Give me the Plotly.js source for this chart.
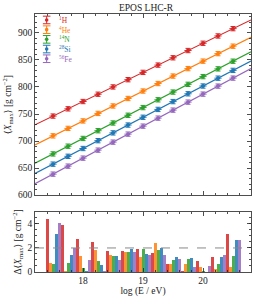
<!DOCTYPE html>
<html><head><meta charset="utf-8">
<script src="https://cdn.plot.ly/plotly-3.0.1.min.js"></script>
<style>html,body{margin:0;padding:0;background:#fff}</style>
</head><body><div id="c" style="width:254px;height:301px"></div>
<script>
const energies = [17.5,17.75,18.0,18.25,18.5,18.75,19.0,19.25,19.5,19.75,20.0,20.25,20.5];
const species = ['<sup>1</sup>H','<sup>4</sup>He','<sup>14</sup>N','<sup>28</sup>Si','<sup>56</sup>Fe'];
const colors = ['#d62728','#ff7f0e','#2ca02c','#1f77b4','#9467bd'];
const xmaxH  = [746.2,759.6,773.1,786.6,800.1,813.5,827.0,840.5,854.0,867.4,880.9,894.4,907.9];
const xmaxHe = [709.6,723.4,737.2,751.1,764.9,778.7,792.5,806.4,820.2,834.0,847.8,861.7,875.5];
const xmaxN  = [676.2,690.5,704.8,719.1,733.4,747.7,761.9,776.3,790.6,804.9,819.2,833.5,847.7];
const xmaxSi = [657.3,671.8,686.2,700.7,715.1,729.6,744.0,758.5,773.0,787.4,801.8,816.3,830.7];
const xmaxFe = [638.8,653.6,668.4,683.2,698.0,712.8,727.6,742.4,757.2,772.0,786.8,801.6,816.4];
const fitX   = [17.2, 20.8];
const fitH   = [730, 924];
const fitHe  = [693, 892];
const fitN   = [659, 865];
const fitSi  = [640, 848];
const fitFe  = [621, 834];
const dH  = [4.4,3.9,2.75,2.5,1.72,1.78,1.9,1.6,0.67,0.12,0.88,1.25,3.15];
const dHe = [0.75,0.05,1.35,1.85,1.45,1.7,1.23,2.45,0.67,0.67,0.4,0.27,0.42];
const dN  = [0.7,0.75,0.35,0.9,1.3,1.7,1.95,1.8,1.0,1.08,0.08,0.7,1.33];
const dSi = [3.2,1.45,0.1,0.6,1.3,1.95,1.53,2.03,1.28,1.17,0.02,1.23,2.67];
const dFe = [4.1,2.0,1.0,0.1,0.97,1.7,1.42,1.45,1.05,0.4,0.5,1.42,2.67];
const refLine = 2;

const pts = [xmaxH,xmaxHe,xmaxN,xmaxSi,xmaxFe];
const fits = [fitH,fitHe,fitN,fitSi,fitFe];
const devs = [dH,dHe,dN,dSi,dFe];
const traces = [];
for (let i=0;i<5;i++){
  traces.push({x:fitX,y:fits[i],mode:'lines',line:{color:colors[i],width:1.2},
    showlegend:false,hoverinfo:'skip',xaxis:'x',yaxis:'y'});
}
for (let i=0;i<5;i++){
  traces.push({x:energies,y:pts[i],mode:'markers',showlegend:false,
    marker:{color:colors[i],size:4},
    error_y:{type:'constant',value:4,color:colors[i],thickness:1,width:2.5},
    error_x:{type:'constant',value:0.06,color:colors[i],thickness:1,width:0},
    xaxis:'x',yaxis:'y'});
}
for (let i=0;i<5;i++){
  traces.push({type:'bar',x:energies,y:devs[i],marker:{color:colors[i],opacity:0.85},
    showlegend:false,xaxis:'x2',yaxis:'y2'});
}
// legend drawn manually (compact spacing as in reference)
const shapes = [{type:'line',xref:'x2 domain',yref:'y2',x0:0,x1:1,y0:refLine,y1:refLine,
    line:{color:'#888',width:1,dash:'dash'}}];
const annotations = [];
const legX = 0.054, legTextX = 0.10, legTop = 0.967, legStep = 0.0535;
const W = 216, H = 181;
for (let i=0;i<5;i++){
  const yc = legTop - i*legStep;
  const hy = 3.8/H, hx = 3.8/W;
  shapes.push({type:'line',xref:'x domain',yref:'y domain',x0:legX,x1:legX,y0:yc-hy,y1:yc+hy,line:{color:colors[i],width:1}});
  shapes.push({type:'line',xref:'x domain',yref:'y domain',x0:legX-hx,x1:legX+hx,y0:yc-hy,y1:yc-hy,line:{color:colors[i],width:1}});
  shapes.push({type:'line',xref:'x domain',yref:'y domain',x0:legX-hx,x1:legX+hx,y0:yc+hy,y1:yc+hy,line:{color:colors[i],width:1}});
  shapes.push({type:'circle',xref:'x domain',yref:'y domain',x0:legX-1.8/W,x1:legX+1.8/W,y0:yc-1.8/H,y1:yc+1.8/H,
    fillcolor:colors[i],line:{color:colors[i],width:0}});
  annotations.push({xref:'x domain',yref:'y domain',x:legTextX,y:yc,xanchor:'left',yanchor:'middle',
    text:species[i],showarrow:false,font:{size:7.5,color:colors[i],family:'Liberation Serif, DejaVu Serif, serif'}});
}
const font = {family:'Liberation Serif, DejaVu Serif, serif',size:9.5,color:'#222'};
const ax = {showline:true,linecolor:'#222',linewidth:0.8,mirror:'allticks',ticks:'inside',
  tickcolor:'#222',ticklen:4,tickwidth:0.8,showgrid:false,zeroline:false};
const layout = {
  width:254,height:301,margin:{l:35,r:3,t:14,b:29},
  paper_bgcolor:'#fff',plot_bgcolor:'#fff',font:font,
  title:{text:'EPOS LHC-R',font:{size:9.5,family:font.family,color:'#222'},x:0.575,xanchor:'center',y:0.985,yanchor:'top'},
  barmode:'group',bargap:0,bargroupgap:0,
  showlegend:false,
  xaxis:Object.assign({},ax,{domain:[0,1],range:[17.2,20.8],anchor:'y',matches:'x2',showticklabels:false,
    tick0:18,dtick:1,minor:{dtick:0.2,tick0:17.2,ticks:'inside',ticklen:2,tickcolor:'#222'}}),
  yaxis:Object.assign({},ax,{domain:[0.298,1],range:[600,935],anchor:'x',dtick:50,
    minor:{dtick:10,ticks:'inside',ticklen:2,tickcolor:'#222'},
    title:{text:'⟨<i>X</i><sub>max</sub>⟩ [g cm<sup>−2</sup>]',font:{size:9.5},standoff:4}}),
  xaxis2:Object.assign({},ax,{domain:[0,1],range:[17.2,20.8],anchor:'y2',tick0:18,dtick:1,
    minor:{dtick:0.2,tick0:17.2,ticks:'inside',ticklen:2,tickcolor:'#222'},
    title:{text:'log (E / eV)',font:{size:9.5},standoff:2}}),
  yaxis2:Object.assign({},ax,{domain:[0,0.233],range:[0,5],anchor:'x2',tickvals:[0,2,4],
    minor:{dtick:0.5,ticks:'inside',ticklen:2,tickcolor:'#222'},
    title:{text:'Δ⟨<i>X</i><sub>max</sub>⟩ [g cm<sup>−2</sup>]',font:{size:9.5},standoff:4}}),
  shapes:shapes,annotations:annotations
};
Plotly.newPlot('c',traces,layout,{displayModeBar:false,staticPlot:true});
</script></body></html>
